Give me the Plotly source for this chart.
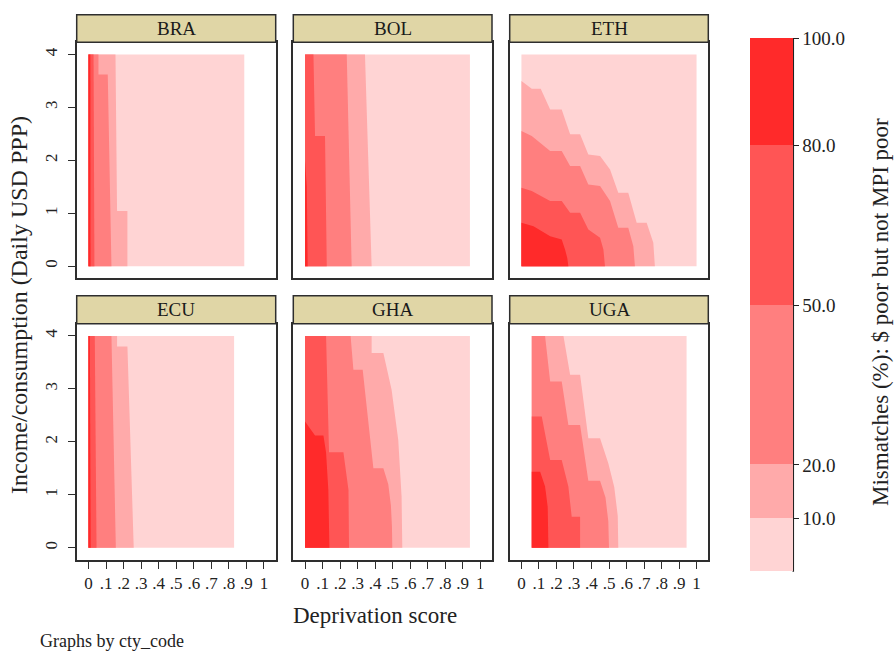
import plotly.graph_objects as go

W, H = 894, 651
FONT = "Liberation Serif"

countries = ["BRA", "BOL", "ETH", "ECU", "GHA", "UGA"]
level_ticks = [10, 20, 50, 80, 100]
level_labels = ["10.0", "20.0", "50.0", "80.0", "100.0"]
# fill for  <10, 10-20, 20-50, 50-80, 80-100
band_colors = ["#FFD4D4", "#FFAAAA", "#FF7F7F", "#FF5555", "#FF2A2A"]

x_ticks = [0, 0.1, 0.2, 0.3, 0.4, 0.5, 0.6, 0.7, 0.8, 0.9, 1.0]
x_tick_labels = ["0", ".1", ".2", ".3", ".4", ".5", ".6", ".7", ".8", ".9", "1"]
y_ticks = [0, 1, 2, 3, 4]
y_tick_labels = ["0", "1", "2", "3", "4"]

# deprivation-score extent of each country's grid (income runs 0 to 4)
score_min = {"BRA": 0.0, "BOL": 0.0, "ETH": 0.0, "ECU": 0.0, "GHA": 0.0, "UGA": 0.059}
score_max = {"BRA": 0.888, "BOL": 0.941, "ETH": 1.0, "ECU": 0.83, "GHA": 0.941, "UGA": 0.943}
income_max = 4.0

# iso-mismatch lines: (deprivation score, income) from the top/left edge down to income 0;
# mismatch is at least the level on the low-score side of each line
BRA_iso = {
    10: ([0.154, 0.163, 0.222, 0.222], [4, 1.04, 1.04, 0]),
    20: ([0.057, 0.057, 0.11, 0.131], [4, 3.62, 3.62, 0]),
    50: ([0.029, 0.034], [4, 0]),
    80: ([0.011, 0.012], [4, 0]),
}
BOL_iso = {
    10: ([0.342, 0.38], [4, 0]),
    20: ([0.238, 0.266], [4, 0]),
    50: ([0.048, 0.057, 0.114, 0.124], [4, 2.46, 2.46, 0]),
    80: ([0.0, 0.01, 0.015], [2.0, 1.5, 0]),
}
ETH_iso = {
    10: ([0.0, 0.059, 0.11, 0.164, 0.23, 0.278, 0.335, 0.382, 0.449, 0.506,
          0.553, 0.61, 0.658, 0.715, 0.753, 0.762],
         [3.5, 3.353, 3.353, 2.962, 2.962, 2.49, 2.49, 2.111, 2.08, 1.828,
          1.387, 1.387, 0.819, 0.819, 0.44, 0]),
    20: ([0.0, 0.059, 0.164, 0.23, 0.278, 0.335, 0.382, 0.449, 0.506, 0.553,
          0.61, 0.639, 0.648],
         [2.553, 2.459, 2.176, 2.176, 1.891, 1.891, 1.544, 1.513, 1.229, 0.725,
          0.725, 0.378, 0]),
    50: ([0.0, 0.059, 0.164, 0.23, 0.278, 0.335, 0.382, 0.449, 0.468, 0.477],
         [1.481, 1.418, 1.229, 1.229, 1.008, 1.008, 0.693, 0.535, 0.315, 0]),
    80: ([0.0, 0.069, 0.164, 0.23, 0.249, 0.262, 0.268],
         [0.819, 0.756, 0.567, 0.504, 0.315, 0.15, 0]),
}
ECU_iso = {
    10: ([0.163, 0.163, 0.222, 0.258], [4, 3.8, 3.8, 0]),
    20: ([0.131, 0.156], [4, 0]),
    50: ([0.036, 0.046], [4, 0]),
    80: ([0.008, 0.013], [4, 0]),
}
GHA_iso = {
    10: ([0.38, 0.38, 0.447, 0.494, 0.532, 0.551, 0.555],
         [4, 3.675, 3.675, 2.981, 2.037, 0.964, 0]),
    20: ([0.26, 0.276, 0.329, 0.39, 0.447, 0.475, 0.49, 0.496, 0.498],
         [4, 3.359, 3.359, 1.501, 1.501, 1.2, 0.8, 0.4, 0]),
    50: ([0.12, 0.137, 0.219, 0.248, 0.251], [4, 1.803, 1.803, 1.09, 0]),
    80: ([0.0, 0.057, 0.105, 0.12, 0.133, 0.139],
         [2.383, 2.118, 2.118, 1.8, 1.09, 0]),
}
UGA_iso = {
    10: ([0.24, 0.278, 0.335, 0.382, 0.449, 0.496, 0.53, 0.55, 0.553],
         [4, 3.265, 3.265, 2.068, 2.068, 1.596, 1.15, 0.6, 0]),
    20: ([0.135, 0.164, 0.23, 0.268, 0.335, 0.382, 0.449, 0.48, 0.496, 0.5],
         [4, 3.139, 3.139, 2.32, 2.32, 1.268, 1.268, 0.95, 0.5, 0]),
    50: ([0.059, 0.116, 0.164, 0.23, 0.268, 0.287, 0.335, 0.335],
         [2.477, 2.477, 1.658, 1.658, 1.155, 0.587, 0.587, 0]),
    80: ([0.059, 0.107, 0.135, 0.15, 0.154], [1.438, 1.438, 1.155, 0.777, 0]),
}
iso_lines = {"BRA": BRA_iso, "BOL": BOL_iso, "ETH": ETH_iso,
             "ECU": ECU_iso, "GHA": GHA_iso, "UGA": UGA_iso}

# panel geometry in pixels
col_px = [(76.7, 275.7), (293.3, 492.0), (509.7, 708.3)]
row_plot_px = [(42.3, 278.3), (323.7, 560.0)]
row_strip_px = [(14.7, 42.3), (295.7, 323.7)]
x_range = [-0.067, 1.067]
y_range = [-0.23, 4.23]
frame_col = "#2e2e2e"

fig = go.Figure()
layout = {}
shapes, annotations = [], []

for i, c in enumerate(countries):
    r, k = divmod(i, 3)
    ax = "" if i == 0 else str(i + 1)
    xa, ya = "x" + ax, "y" + ax
    x0, x1 = score_min[c], score_max[c]

    # whole grid starts in the lowest band
    fig.add_trace(go.Scatter(
        x=[x0, x1, x1, x0, x0], y=[0, 0, income_max, income_max, 0],
        mode="lines", fill="toself", fillcolor=band_colors[0],
        line=dict(width=0), hoverinfo="skip", showlegend=False,
        xaxis=xa, yaxis=ya))
    for j, lev in enumerate([10, 20, 50, 80]):
        bx, by = iso_lines[c][lev]
        px = [x0] + list(bx) + [x0]
        py = [by[0]] + list(by) + [0]
        fig.add_trace(go.Scatter(
            x=px, y=py, mode="lines", fill="toself",
            fillcolor=band_colors[j + 1], line=dict(width=0),
            hoverinfo="skip", showlegend=False, xaxis=xa, yaxis=ya))

    cl, cr = col_px[k]
    pt, pb = row_plot_px[r]
    layout["xaxis" + ax] = dict(
        domain=[cl / W, cr / W], range=x_range, anchor=ya,
        showgrid=False, zeroline=False, showline=True, mirror=True,
        linecolor=frame_col, linewidth=1.5,
        ticks="outside" if r == 1 else "", ticklen=7, tickwidth=1.2,
        tickcolor=frame_col, tickvals=x_ticks, ticktext=x_tick_labels,
        showticklabels=(r == 1),
        tickfont=dict(family=FONT, size=17, color="#222"))
    layout["yaxis" + ax] = dict(
        domain=[1 - pb / H, 1 - pt / H], range=y_range, anchor=xa,
        showgrid=False, zeroline=False, showline=True, mirror=True,
        linecolor=frame_col, linewidth=1.5,
        ticks="outside" if k == 0 else "", ticklen=7, tickwidth=1.2,
        tickcolor=frame_col, tickvals=y_ticks, ticktext=y_tick_labels,
        showticklabels=(k == 0), tickangle=-90, ticklabelstandoff=4,
        tickfont=dict(family=FONT, size=17, color="#222"))

    st, sb = row_strip_px[r]
    shapes.append(dict(type="rect", xref="paper", yref="paper",
                       x0=cl / W, x1=cr / W, y0=1 - sb / H, y1=1 - st / H,
                       fillcolor="#E0D6A6", line=dict(color=frame_col, width=1.5)))
    annotations.append(dict(text=c, xref="paper", yref="paper",
                            x=(cl + cr) / 2 / W, y=1 - (st + sb) / 2 / H,
                            showarrow=False, xanchor="center", yanchor="middle",
                            font=dict(family=FONT, size=19, color="#1a1a1a")))

# legend bar for the mismatch bands
cb_top, cb_bot = 38.3, 571.7
scale = []
edges = [0, 10, 20, 50, 80, 100]
for j in range(5):
    scale.append([edges[j] / 100, band_colors[j]])
    scale.append([edges[j + 1] / 100, band_colors[j]])
fig.add_trace(go.Scatter(
    x=[5], y=[5], mode="markers", xaxis="x", yaxis="y",
    hoverinfo="skip", showlegend=False,
    marker=dict(size=1, color=[50], cmin=0, cmax=100, colorscale=scale,
                showscale=True,
                colorbar=dict(
                    x=750 / W, xanchor="left", xpad=0, ypad=0,
                    y=1 - (cb_top + cb_bot) / 2 / H, yanchor="middle",
                    thickness=43.3, thicknessmode="pixels",
                    len=cb_bot - cb_top, lenmode="pixels",
                    outlinewidth=0, ticks="outside", ticklen=6, tickwidth=1.2,
                    tickcolor="#222", tickvals=level_ticks, ticktext=level_labels,
                    tickfont=dict(family=FONT, size=19, color="#222")))))
shapes.append(dict(type="line", xref="paper", yref="paper",
                   x0=793.3 / W, x1=793.3 / W, y0=1 - cb_bot / H, y1=1 - cb_top / H,
                   line=dict(color="#222", width=1.5)))

annotations += [
    dict(text="Mismatches (%): $ poor but not MPI poor", xref="paper", yref="paper",
         x=881 / W, y=1 - 312 / H, textangle=-90, showarrow=False,
         xanchor="center", yanchor="middle",
         font=dict(family=FONT, size=23, color="#222")),
    dict(text="Income/consumption (Daily USD PPP)", xref="paper", yref="paper",
         x=19 / W, y=1 - 305 / H, textangle=-90, showarrow=False,
         xanchor="center", yanchor="middle",
         font=dict(family=FONT, size=24, color="#222")),
    dict(text="Deprivation score", xref="paper", yref="paper",
         x=375 / W, y=1 - 615 / H, showarrow=False,
         xanchor="center", yanchor="middle",
         font=dict(family=FONT, size=23, color="#222")),
    dict(text="Graphs by cty_code", xref="paper", yref="paper",
         x=38 / W, y=1 - 641 / H, showarrow=False,
         xanchor="left", yanchor="middle",
         font=dict(family=FONT, size=18, color="#222")),
]

fig.update_layout(
    width=W, height=H, margin=dict(l=0, r=0, t=0, b=0),
    paper_bgcolor="white", plot_bgcolor="white",
    shapes=shapes, annotations=annotations, **layout)

fig.write_html("out.html")
